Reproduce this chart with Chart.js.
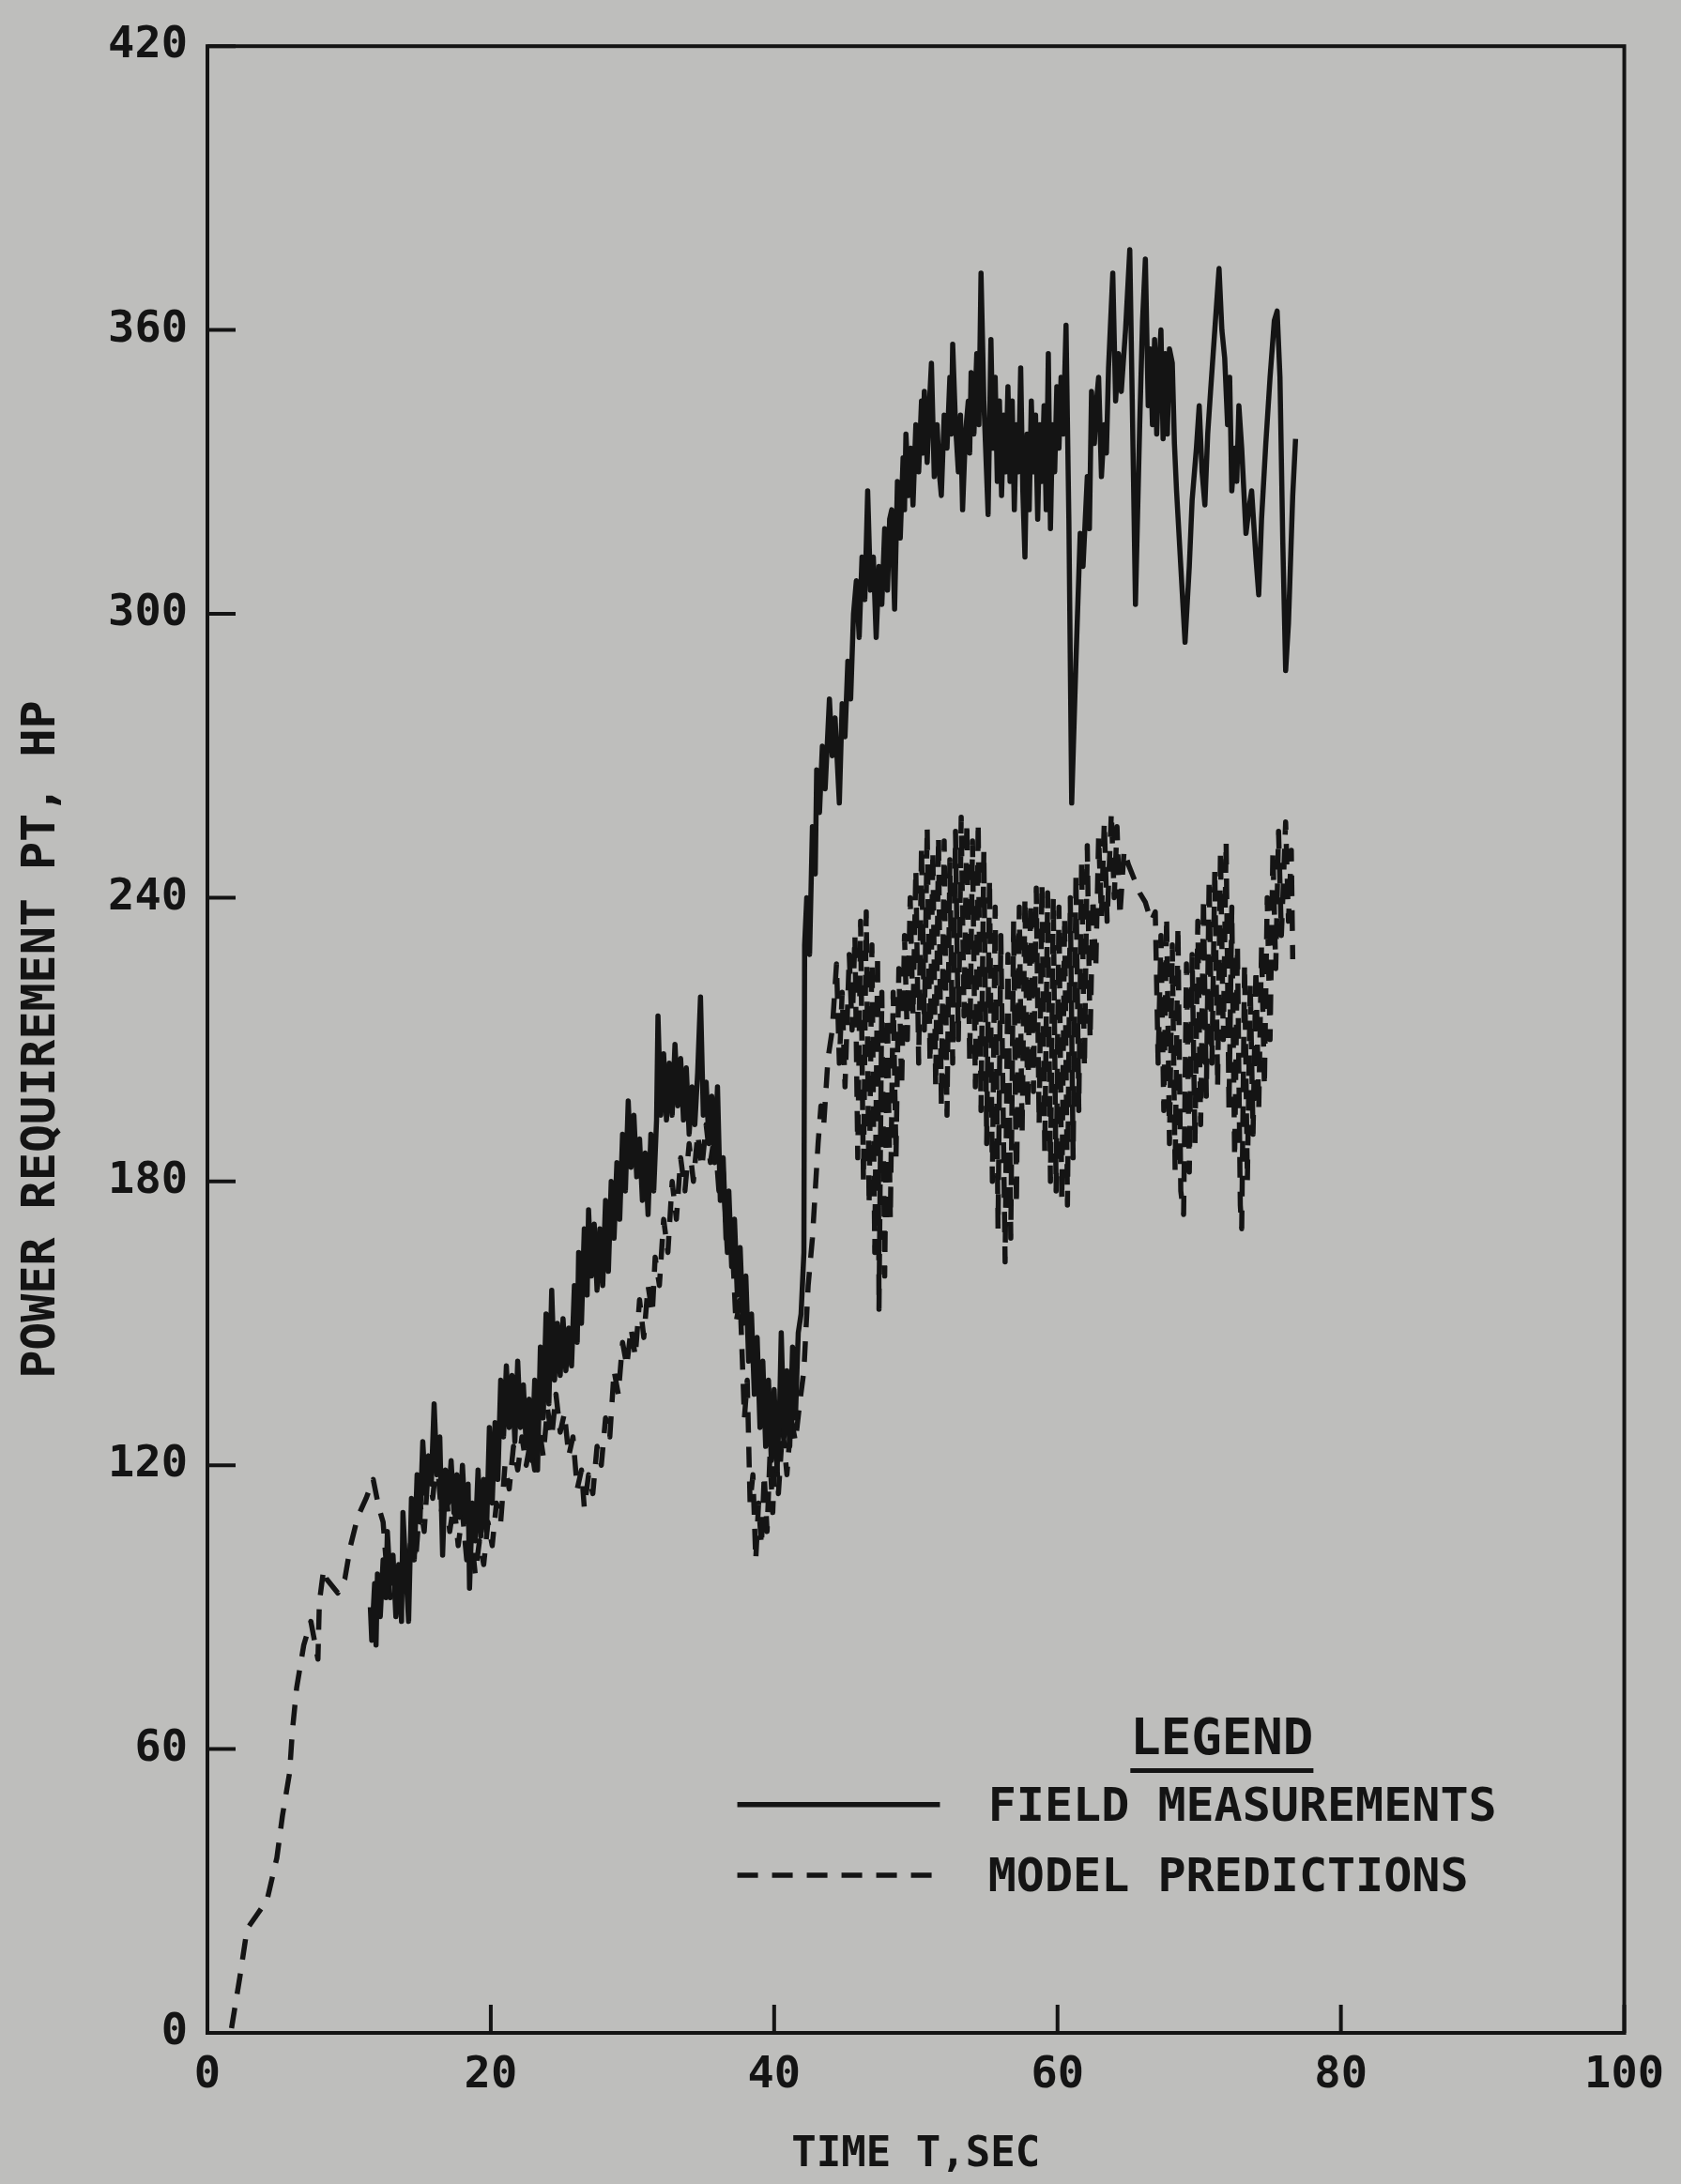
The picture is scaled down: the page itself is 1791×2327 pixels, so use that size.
<!DOCTYPE html>
<html>
<head>
<meta charset="utf-8">
<title>Power requirement</title>
<script src="https://cdn.jsdelivr.net/npm/chart.js@4.4.1/dist/chart.umd.min.js"></script>
<style>
  html, body { margin: 0; padding: 0; background: #bebebc; }
  #wrap { width: 1791px; height: 2327px; }
</style>
</head>
<body>
<div id="wrap"><canvas id="chart" width="1791" height="2327"></canvas></div>
<script>
"use strict";
const $ = (s) => document.querySelector(s);

// --- dados -------------------------------------------------------------------
const X_TICKS = [0, 20, 40, 60, 80, 100];
const Y_TICKS = [0, 60, 120, 180, 240, 300, 360, 420];
const X_TITLE = "TIME T,SEC";
const Y_TITLE = "POWER REQUIREMENT PT, HP";
const LEGEND_TITLE = "LEGEND";
const SERIES_NAMES = ["FIELD MEASUREMENTS", "MODEL PREDICTIONS"];

// [tempo s, potência hp]
const fieldMeasurements = [
  [11.5,90],[11.6,83],[11.8,95],[11.9,82],[12.0,97],[12.2,88],[12.4,100],[12.6,92],[12.7,106],[12.9,95],
  [13.1,101],[13.3,88],[13.5,99],[13.7,87],[13.8,110],[14.0,98],[14.2,87],[14.4,113],[14.6,100],[14.8,118],
  [15.0,108],[15.2,125],[15.4,114],[15.6,122],[15.8,116],[16.0,133],[16.2,118],[16.4,126],[16.6,101],[16.8,119],
  [17.0,112],[17.2,121],[17.4,110],[17.6,118],[17.8,109],[18.0,120],[18.2,108],[18.4,116],[18.5,94],[18.7,112],
  [18.9,104],[19.1,119],[19.3,105],[19.5,117],[19.7,106],[19.9,128],[20.1,112],[20.3,129],[20.5,117],[20.7,138],
  [20.9,126],[21.1,141],[21.3,128],[21.5,139],[21.7,125],[21.9,142],[22.1,128],[22.3,137],[22.5,124],[22.7,134],
  [22.9,121],[23.1,138],[23.3,119],[23.5,145],[23.7,130],[23.9,152],[24.1,133],[24.3,157],[24.5,138],[24.7,150],
  [24.9,139],[25.1,151],[25.3,140],[25.5,149],[25.7,141],[25.9,158],[26.1,146],[26.2,165],[26.4,150],[26.6,170],
  [26.8,156],[26.9,174],[27.1,160],[27.3,171],[27.5,157],[27.7,170],[27.9,158],[28.1,176],[28.3,161],[28.5,180],
  [28.7,168],[28.9,184],[29.1,172],[29.3,190],[29.5,178],[29.7,197],[29.9,183],[30.1,194],[30.3,181],[30.5,189],
  [30.7,176],[30.9,186],[31.1,173],[31.3,190],[31.5,178],[31.7,193],[31.8,215],[32.0,194],[32.2,207],[32.4,193],
  [32.6,205],[32.8,194],[33.0,209],[33.2,196],[33.4,206],[33.6,193],[33.8,204],[34.0,190],[34.2,200],[34.4,192],
  [34.6,203],[34.8,219],[35.0,194],[35.2,201],[35.4,188],[35.6,198],[35.8,184],[36.0,200],[36.2,176],[36.4,185],
  [36.6,168],[36.8,178],[37.0,162],[37.2,172],[37.4,156],[37.6,166],[37.8,150],[38.0,160],[38.2,142],[38.4,152],
  [38.6,135],[38.8,147],[39.0,128],[39.2,142],[39.4,124],[39.6,138],[39.8,121],[40.0,136],[40.2,119],[40.4,134],
  [40.5,148],[40.7,126],[40.9,140],[41.1,124],[41.3,145],[41.5,130],[41.7,148],[41.9,152],[42.1,165],[42.15,230],
  [42.3,240],[42.5,228],[42.7,255],[42.9,245],[43.0,267],[43.2,258],[43.4,272],[43.6,263],[43.9,282],[44.1,270],
  [44.3,278],[44.6,260],[44.8,281],[45.0,274],[45.2,290],[45.4,282],[45.6,300],[45.8,307],[46.0,295],[46.2,312],
  [46.4,303],[46.6,326],[46.8,305],[47.0,312],[47.2,295],[47.4,310],[47.6,302],[47.8,318],[48.0,305],[48.15,320],
  [48.3,322],[48.5,301],[48.7,328],[48.9,316],[49.1,333],[49.2,322],[49.3,338],[49.5,325],[49.65,335],[49.8,323],
  [50.0,340],[50.2,330],[50.4,345],[50.5,334],[50.6,347],[50.8,332],[50.95,344],[51.1,353],[51.3,329],[51.5,340],
  [51.65,330],[51.8,325],[52.0,342],[52.2,335],[52.4,350],[52.5,338],[52.6,357],[52.8,340],[53.0,330],[53.15,342],
  [53.3,322],[53.5,338],[53.7,345],[53.8,334],[53.9,351],[54.1,338],[54.3,355],[54.45,340],[54.6,372],[54.8,345],
  [55.1,321],[55.3,358],[55.45,335],[55.6,350],[55.75,328],[55.9,345],[56.05,325],[56.2,342],[56.35,330],[56.5,348],
  [56.65,328],[56.8,345],[56.95,322],[57.1,340],[57.25,330],[57.4,352],[57.55,326],[57.7,312],[57.85,338],[58.0,322],
  [58.15,345],[58.3,330],[58.45,342],[58.6,320],[58.75,340],[58.9,328],[59.05,344],[59.2,322],[59.35,355],[59.5,318],
  [59.65,340],[59.8,330],[59.95,348],[60.1,335],[60.25,350],[60.4,338],[60.6,361],[60.8,320],[61.0,260],[61.3,290],
  [61.6,317],[61.8,310],[62.1,329],[62.25,318],[62.4,347],[62.6,336],[62.75,345],[62.9,350],[63.1,329],[63.3,340],
  [63.45,334],[63.6,352],[63.9,372],[64.1,345],[64.3,355],[64.5,347],[64.8,360],[65.1,377],[65.3,340],[65.5,302],
  [65.8,340],[66.0,362],[66.2,375],[66.4,344],[66.55,356],[66.7,340],[66.85,358],[67.0,338],[67.15,352],[67.3,360],
  [67.45,337],[67.6,355],[67.75,338],[67.9,356],[68.1,353],[68.25,336],[68.4,326],[68.7,310],[69.0,294],[69.3,310],
  [69.5,324],[69.8,335],[70.0,344],[70.2,330],[70.4,323],[70.6,338],[70.8,347],[71.1,360],[71.4,373],[71.6,360],
  [71.8,354],[72.0,340],[72.15,350],[72.3,326],[72.5,335],[72.65,328],[72.8,344],[73.0,335],[73.3,317],[73.5,322],
  [73.7,326],[74.0,312],[74.2,304],[74.4,320],[74.7,336],[75.0,350],[75.3,362],[75.5,364],[75.7,350],[75.9,315],
  [76.1,288],[76.3,298],[76.4,307],[76.6,325],[76.8,337]
];

const modelPredictions = [
  [1.7,1],[2.3,12],[2.8,22],[3.5,25],[4.2,28],[4.9,37],[5.3,46],[5.8,55],[6.0,64],[6.3,73],
  [6.8,82],[7.3,87],[7.8,79],[7.9,91],[8.2,98],[8.4,96],[9.2,93],[9.7,96],[10.1,103],[10.6,109],
  [11.2,113],[11.7,117],[12.1,111],[12.4,108],[12.6,100],[12.9,92],[13.2,98],[13.5,90],[13.8,100],[14.1,95],
  [14.4,106],[14.7,100],[15.0,112],[15.3,106],[15.6,120],[15.9,113],[16.2,122],[16.5,110],[16.8,116],[17.1,106],
  [17.4,112],[17.7,103],[18.0,110],[18.3,100],[18.6,106],[18.9,97],[19.2,104],[19.5,99],[19.8,108],[20.1,103],
  [20.4,112],[20.7,108],[21.0,120],[21.3,115],[21.6,124],[21.9,119],[22.2,126],[22.5,120],[22.8,125],[23.1,119],
  [23.4,128],[23.7,122],[24.0,132],[24.3,126],[24.6,135],[24.9,127],[25.2,131],[25.5,122],[25.8,126],[26.1,115],
  [26.4,119],[26.6,111],[26.9,118],[27.2,114],[27.5,124],[27.8,120],[28.1,130],[28.4,126],[28.7,140],[29.0,135],
  [29.3,146],[29.6,141],[29.9,149],[30.2,143],[30.5,155],[30.8,147],[31.1,158],[31.4,152],[31.6,164],[31.9,158],
  [32.2,172],[32.5,165],[32.8,180],[33.1,172],[33.4,185],[33.7,178],[34.0,188],[34.3,180],[34.6,190],[34.9,183],
  [35.2,192],[35.5,184],[35.8,190],[36.1,178],[36.4,182],[36.7,165],[37.0,170],[37.3,150],[37.6,155],[37.9,130],
  [38.1,138],[38.3,112],[38.5,118],[38.7,100],[38.9,112],[39.1,103],[39.3,118],[39.5,106],[39.7,122],[39.9,110],
  [40.1,126],[40.3,114],[40.6,128],[40.9,118],[41.2,130],[41.5,125],[41.8,133],[42.1,140],[42.4,158],[42.7,168],
  [42.9,178],[43.1,188],[43.3,196],[43.5,192],[43.8,206],[44.1,212],[44.4,226],[44.6,205],[44.8,220],[45.0,200],
  [45.3,228],[45.5,212],[45.7,232],[45.9,185],[46.1,235],[46.3,180],[46.5,237],[46.7,175],[46.9,230],[47.1,165],
  [47.3,228],[47.4,153],[47.6,220],[47.8,160],[48.0,215],[48.2,172],[48.4,220],[48.6,185],[48.8,225],[49.0,200],
  [49.2,232],[49.4,210],[49.6,240],[49.8,215],[50.0,246],[50.2,205],[50.4,251],[50.6,212],[50.8,255],[51.0,205],
  [51.2,250],[51.4,200],[51.6,253],[51.8,196],[52.0,252],[52.2,194],[52.4,248],[52.6,205],[52.8,254],[53.0,210],
  [53.2,257],[53.4,215],[53.6,256],[53.8,205],[54.0,252],[54.2,200],[54.4,256],[54.6,195],[54.8,250],[55.0,188],
  [55.2,244],[55.4,180],[55.6,238],[55.8,170],[56.0,232],[56.3,163],[56.5,228],[56.7,168],[56.9,235],[57.1,175],
  [57.3,238],[57.5,190],[57.7,240],[57.9,195],[58.1,239],[58.3,199],[58.5,242],[58.7,192],[58.9,243],[59.1,186],
  [59.3,241],[59.5,180],[59.7,240],[59.9,178],[60.1,238],[60.3,176],[60.5,236],[60.7,175],[60.9,240],[61.1,185],
  [61.3,245],[61.5,195],[61.7,248],[61.9,204],[62.1,251],[62.3,210],[62.5,240],[62.7,225],[62.9,253],[63.1,236],
  [63.3,256],[63.5,235],[63.8,258],[64.0,240],[64.2,255],[64.4,236],[64.7,250],[65.0,247],[65.4,244],[65.8,241],
  [66.2,239],[66.6,235],[66.9,237],[67.1,205],[67.3,232],[67.5,195],[67.7,236],[67.9,188],[68.1,230],[68.3,182],
  [68.5,234],[68.7,178],[68.9,173],[69.1,226],[69.3,182],[69.5,228],[69.7,188],[69.9,235],[70.1,192],[70.3,240],
  [70.5,198],[70.7,244],[70.9,205],[71.1,246],[71.3,200],[71.5,250],[71.7,210],[71.9,252],[72.1,195],[72.3,238],
  [72.5,185],[72.7,230],[72.9,175],[73.0,170],[73.2,226],[73.4,180],[73.6,222],[73.8,190],[74.0,225],[74.2,195],
  [74.4,230],[74.6,200],[74.8,240],[75.0,210],[75.2,250],[75.4,225],[75.6,254],[75.8,232],[76.1,256],[76.3,235],
  [76.5,250],[76.6,227]
];

// --- estilo ------------------------------------------------------------------
const INK = "#141414", PAPER = "#bebebc";
const FONT = "'DejaVu Sans Mono', 'Liberation Mono', monospace";
const DASH = [22, 15];
const TICK_LEN = 30;
const LINE_W = 5.5;

const toXY = (arr) => arr.map(([t, p]) => ({ x: t, y: p }));

// fundo, moldura, ticks para dentro e legenda desenhada à mão
const plotterPlugin = {
  id: "plotter",
  beforeDraw(chart) {
    const ctx = chart.ctx;
    ctx.save();
    ctx.fillStyle = PAPER;
    ctx.fillRect(0, 0, chart.width, chart.height);
    ctx.restore();
  },
  afterDraw(chart) {
    const { ctx, chartArea: a, scales: { x, y } } = chart;
    ctx.save();
    ctx.strokeStyle = INK;
    ctx.lineWidth = 4;
    ctx.strokeRect(a.left, a.top, a.right - a.left, a.bottom - a.top);
    ctx.beginPath();
    x.ticks.forEach((t) => {
      const px = x.getPixelForValue(t.value);
      ctx.moveTo(px, a.bottom); ctx.lineTo(px, a.bottom - TICK_LEN);
    });
    y.ticks.forEach((t) => {
      const py = y.getPixelForValue(t.value);
      ctx.moveTo(a.left, py); ctx.lineTo(a.left + TICK_LEN, py);
    });
    ctx.stroke();

    // legenda
    const W = a.right - a.left, H = a.bottom - a.top;
    const fx = (f) => a.left + f * W, fy = (f) => a.top + f * H;
    ctx.fillStyle = INK;
    ctx.textBaseline = "middle";
    ctx.font = "bold 54px " + FONT;
    ctx.textAlign = "center";
    const cx = fx(0.716), ty = fy(0.853);
    ctx.fillText(LEGEND_TITLE, cx, ty);
    const lw = ctx.measureText(LEGEND_TITLE).width;
    ctx.lineWidth = 5;
    ctx.beginPath();
    ctx.moveTo(cx - lw / 2, fy(0.868)); ctx.lineTo(cx + lw / 2, fy(0.868));
    ctx.stroke();

    ctx.font = "bold 50px " + FONT;
    ctx.textAlign = "left";
    const rows = [fy(0.887), fy(0.9225)];
    SERIES_NAMES.forEach((name, i) => {
      ctx.fillText(name, fx(0.551), rows[i]);
      ctx.beginPath();
      ctx.lineWidth = LINE_W;
      ctx.setLineDash(i === 0 ? [] : DASH);
      ctx.moveTo(fx(0.374), rows[i] - 4); ctx.lineTo(fx(0.517), rows[i] - 4);
      ctx.stroke();
    });
    ctx.restore();
  }
};

// --- gráfico -----------------------------------------------------------------
new Chart($("#chart"), {
  type: "line",
  data: {
    datasets: [
      { label: SERIES_NAMES[0], data: toXY(fieldMeasurements), borderColor: INK, borderWidth: LINE_W,
        pointRadius: 0, tension: 0, borderJoinStyle: "round", fill: false },
      { label: SERIES_NAMES[1], data: toXY(modelPredictions), borderColor: INK, borderWidth: LINE_W,
        borderDash: DASH, pointRadius: 0, tension: 0, borderJoinStyle: "round", fill: false }
    ]
  },
  options: {
    responsive: false,
    animation: false,
    devicePixelRatio: 1,
    layout: { padding: { top: 44, right: 46, bottom: 0, left: 0 } },
    plugins: { legend: { display: false }, tooltip: { enabled: false } },
    scales: {
      x: {
        type: "linear", min: 0, max: 100,
        afterBuildTicks: (s) => { s.ticks = X_TICKS.map((v) => ({ value: v })); },
        afterFit: (s) => { s.height = 161; },
        grid: { display: false, drawTicks: false },
        border: { display: false },
        ticks: { color: INK, padding: 18, maxRotation: 0, font: { family: FONT, size: 47, weight: "bold" } },
        title: { display: true, text: X_TITLE, color: INK, font: { family: FONT, size: 44, weight: "bold" },
                 padding: { top: 0, bottom: 4 } }
      },
      y: {
        type: "linear", min: 0, max: 420,
        afterBuildTicks: (s) => { s.ticks = Y_TICKS.map((v) => ({ value: v })); },
        afterFit: (s) => { s.width = 221; },
        grid: { display: false, drawTicks: false },
        border: { display: false },
        ticks: { color: INK, padding: 21, font: { family: FONT, size: 47, weight: "bold" } },
        title: { display: true, text: Y_TITLE, color: INK, font: { family: FONT, size: 50, weight: "bold" },
                 padding: { top: 15, bottom: 0 } }
      }
    }
  },
  plugins: [plotterPlugin]
});
</script>
</body>
</html>
